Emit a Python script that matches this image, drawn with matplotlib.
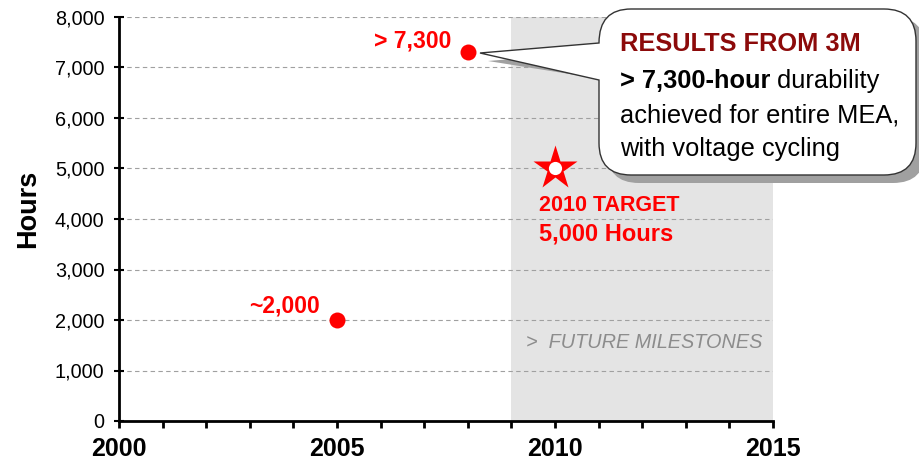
import matplotlib.pyplot as plt
from matplotlib.path import Path
from matplotlib.patches import PathPatch
from matplotlib.ticker import FuncFormatter

plt.rcParams['font.family'] = ['Liberation Sans', 'DejaVu Sans']

# data
years = [2005, 2008]
hours = [2000, 7300]
point_labels = ['~2,000', '> 7,300']
target_year = 2010
target_hours = 5000
future_start = 2009
x_ticks = [2000, 2005, 2010, 2015]
y_ticks = [0, 1000, 2000, 3000, 4000, 5000, 6000, 7000, 8000]

RED = '#ff0000'

fig = plt.figure(figsize=(9.2, 4.62), dpi=100)
ax = fig.add_axes([119 / 920, 1 - 421 / 462, 654 / 920, 404 / 462])

ax.axvspan(future_start, x_ticks[-1], color='#e4e4e4', lw=0, zorder=0)
ax.set_xlim(x_ticks[0], x_ticks[-1])
ax.set_ylim(y_ticks[0], y_ticks[-1])

ax.set_axisbelow(True)
ax.yaxis.grid(True, ls=(0, (4, 3)), color='#a0a0a0', lw=0.8)

for s in ['top', 'right']:
    ax.spines[s].set_visible(False)
for s in ['left', 'bottom']:
    ax.spines[s].set_linewidth(2)

ax.set_yticks(y_ticks)
ax.yaxis.set_major_formatter(FuncFormatter(lambda v, _: f"{int(v):,}"))
ax.tick_params(axis='y', direction='inout', length=7, width=1.5, labelsize=14.3, pad=7)

ax.set_xticks(x_ticks)
ax.set_xticks(range(x_ticks[0], x_ticks[-1] + 1), minor=True)
ax.set_xticklabels([str(v) for v in x_ticks], fontweight='bold')
ax.tick_params(axis='x', which='both', direction='out', length=5, width=2, labelsize=18, pad=6.5)

fig.text(28 / 920, 1 - 209 / 462, 'Hours', rotation=90, ha='center', va='center',
         fontsize=19.5, fontweight='bold')

# measured points
ax.plot(years, hours, 'o', color=RED, ms=11.5, mec='none', zorder=4, clip_on=False)
offsets = [(-12, 10), (-12, 8.5)]
for x, y, lab, off in zip(years, hours, point_labels, offsets):
    ax.annotate(lab, xy=(x, y), xytext=off, textcoords='offset points',
                ha='right', va='center', color=RED, fontsize=16.5, fontweight='bold')

# target
ax.plot(target_year, target_hours, marker='*', ms=33, color=RED, mec='none', zorder=4)
ax.plot(target_year, target_hours, 'o', ms=9.5, color='white', mec='none', zorder=5)
ax.annotate('2010 TARGET', xy=(target_year, target_hours), xytext=(-11.5, -26.5),
            textcoords='offset points', ha='left', va='center', color=RED,
            fontsize=15.5, fontweight='bold')
ax.annotate('5,000 Hours', xy=(target_year, target_hours), xytext=(-11.5, -47.5),
            textcoords='offset points', ha='left', va='center', color=RED,
            fontsize=17, fontweight='bold')

ax.text(2012.05, 1560, '>  FUTURE MILESTONES', ha='center', va='center', color='#8c8c8c',
        fontsize=14.3, fontstyle='italic')

# callout bubble, drawn in pixel coordinates
ov = fig.add_axes([0, 0, 1, 1], zorder=10)
ov.set_xlim(0, 920)
ov.set_ylim(462, 0)
ov.axis('off')
ov.patch.set_alpha(0)


def bubble(x0, y0, x1, y1, r, tip):
    verts = [(x0, y0 + r + 2), tip, (x0, 80), (x0, y1 - r),
             (x0, y1), (x0 + r, y1), (x1 - r, y1),
             (x1, y1), (x1, y1 - r), (x1, y0 + r),
             (x1, y0), (x1 - r, y0), (x0 + r, y0),
             (x0, y0), (x0, y0 + r + 2), (x0, y0 + r + 2)]
    codes = [Path.MOVETO, Path.LINETO, Path.LINETO, Path.LINETO,
             Path.CURVE3, Path.CURVE3, Path.LINETO,
             Path.CURVE3, Path.CURVE3, Path.LINETO,
             Path.CURVE3, Path.CURVE3, Path.LINETO,
             Path.CURVE3, Path.CURVE3, Path.CLOSEPOLY]
    return Path(verts, codes)


ov.add_patch(PathPatch(bubble(607, 17, 925, 183, 32, (488, 61)), fc='#a0a0a0', ec='none'))
ov.add_patch(PathPatch(bubble(599, 9, 916, 175, 32, (480, 53)), fc='white', ec='#333333', lw=1))

ov.text(620, 44, 'RESULTS FROM 3M', color='#8c0a0a', fontsize=18.3, fontweight='bold',
        ha='left', va='center')
t1 = ov.text(620, 81, '> 7,300-hour', fontsize=18.3, fontweight='bold', ha='left', va='center')
ov.annotate(' durability', xy=(1, 0.5), xycoords=t1, fontsize=18.3, ha='left', va='center')
ov.text(620, 116, 'achieved for entire MEA,', fontsize=18.3, ha='left', va='center')
ov.text(620, 149, 'with voltage cycling', fontsize=18.3, ha='left', va='center')

fig.savefig('out.png', dpi=100)
